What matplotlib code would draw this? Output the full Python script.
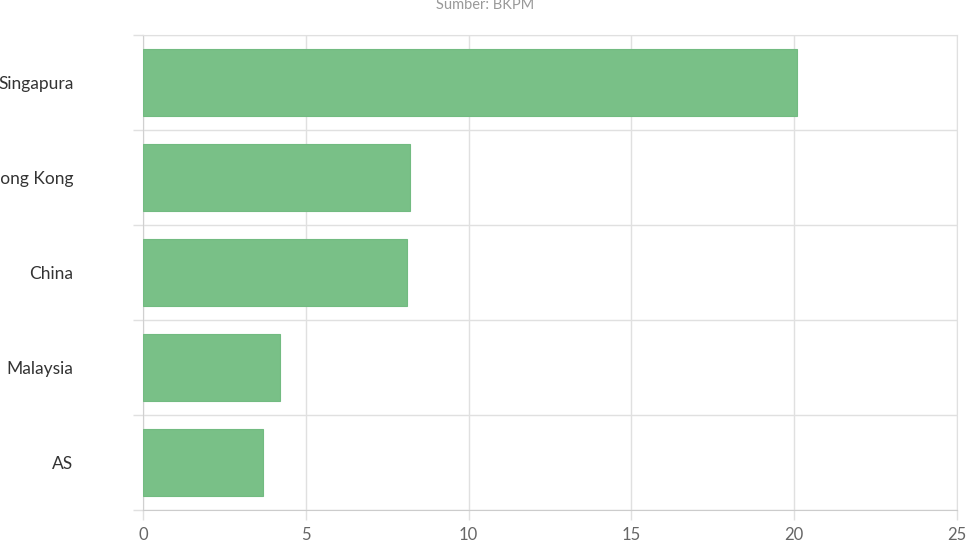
import numpy as np
import matplotlib.pyplot as plt

countries = ['Singapura', 'Hong Kong', 'China', 'Malaysia', 'AS']
values = [20.1, 8.2, 8.1, 4.2, 3.7]
x_ticks = [0, 5, 10, 15, 20, 25]

plt.rcParams['font.family'] = ['Lato', 'DejaVu Sans']

fig = plt.figure(figsize=(9.68, 5.43), dpi=100)
ax = fig.add_axes([143/968, 33/543, (957-143)/968, (510-35)/543])

pos = np.arange(len(countries))[::-1]
ax.barh(pos, values, height=0.71, color='#79c087', edgecolor='#72bb81', linewidth=0.8, zorder=3)

ax.set_xlim(0, 25)
ax.set_ylim(-0.5, 4.5)
ax.set_xticks(x_ticks)
ax.set_xticklabels([str(t) for t in x_ticks], fontsize=12, color='#666666')
ax.set_yticks(pos)
ax.set_yticklabels(countries, fontsize=12.5, color='#333333')
ax.set_yticks(np.arange(-0.5, 5, 1), minor=True)

ax.tick_params(axis='y', which='major', length=0, pad=50)
ax.tick_params(axis='y', which='minor', length=7.5, color='#e0e0e0', width=1)
ax.tick_params(axis='x', length=7, color='#e0e0e0', width=1, pad=5)

ax.grid(axis='x', color='#e0e0e0', linewidth=1, zorder=0)
ax.grid(axis='y', which='minor', color='#e0e0e0', linewidth=1, zorder=0)

for s in ['top', 'right']:
    ax.spines[s].set_color('#e0e0e0')
ax.spines['left'].set_color('#d0d0d0')
ax.spines['bottom'].set_color('#cccccc')

fig.text(485/968, 1 - 5/543, 'Sumber: BKPM', ha='center', va='center', fontsize=10.5, color='#999999')

fig.savefig('out.png', dpi=100)
